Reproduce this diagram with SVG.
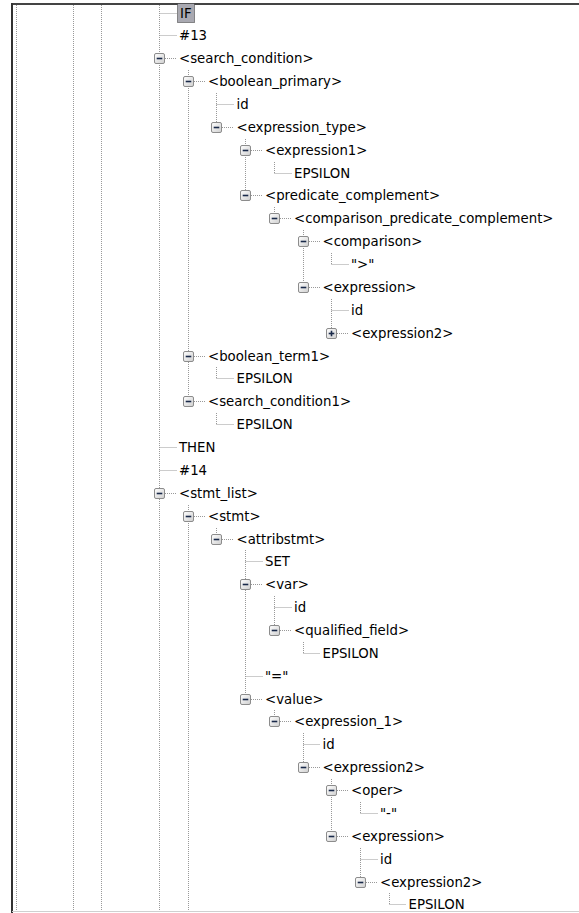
<svg xmlns="http://www.w3.org/2000/svg" xmlns:xlink="http://www.w3.org/1999/xlink" width="579" height="913" viewBox="0 0 579 913">
<style>
.t{font-family:"DejaVu Sans",Verdana,sans-serif;font-size:13.3px;fill:#000}
.d{stroke:#999;stroke-width:1;stroke-dasharray:1 1;fill:none}
.bx{fill:url(#bg);stroke:#8c8c8c;stroke-width:1}
.sg{stroke:#1a2a4a;stroke-width:1.6}
</style>
<defs>
<linearGradient id="bg" x1="0" y1="0" x2="1" y2="1">
<stop offset="0" stop-color="#ffffff"/>
<stop offset="1" stop-color="#cfcfcf"/>
</linearGradient>
<g id="mb"><rect class="bx" x="-5" y="-5" width="10" height="10" rx="1.5"/><line class="sg" x1="-2.8" y1="0" x2="2.8" y2="0"/></g>
<g id="pb"><rect class="bx" x="-5" y="-5" width="10" height="10" rx="1.5"/><line class="sg" x1="-2.8" y1="0" x2="2.8" y2="0"/><line class="sg" x1="0" y1="-2.8" x2="0" y2="2.8"/></g>
</defs>
<rect x="0" y="0" width="579" height="913" fill="#fff"/>
<g id="frame">
<line x1="11" y1="4" x2="579" y2="4" stroke="#444" stroke-width="2"/>
<line x1="12" y1="3" x2="12" y2="913" stroke="#333" stroke-width="2"/>
<line x1="12" y1="911.5" x2="579" y2="911.5" stroke="#d0d0d0" stroke-width="1"/>
</g>
<g id="connectors">
<line class="d" x1="16.5" y1="5" x2="16.5" y2="911"/>
<line class="d" x1="73.5" y1="5" x2="73.5" y2="911"/>
<line class="d" x1="101.5" y1="5" x2="101.5" y2="911"/>
<line class="d" x1="159.5" y1="5" x2="159.5" y2="911"/>
<line class="d" x1="188.5" y1="70" x2="188.5" y2="401.5"/>
<line class="d" x1="188.5" y1="505" x2="188.5" y2="911"/>
<line class="d" x1="216.5" y1="93" x2="216.5" y2="127.5"/>
<line class="d" x1="216.5" y1="367" x2="216.5" y2="378.5"/>
<line class="d" x1="216.5" y1="413" x2="216.5" y2="424.5"/>
<line class="d" x1="216.5" y1="528" x2="216.5" y2="539.5"/>
<line class="d" x1="245.5" y1="139" x2="245.5" y2="195.5"/>
<line class="d" x1="245.5" y1="550" x2="245.5" y2="699.5"/>
<line class="d" x1="274.5" y1="162" x2="274.5" y2="173.5"/>
<line class="d" x1="274.5" y1="207" x2="274.5" y2="218.5"/>
<line class="d" x1="274.5" y1="596" x2="274.5" y2="630.5"/>
<line class="d" x1="274.5" y1="710" x2="274.5" y2="721.5"/>
<line class="d" x1="303.5" y1="230" x2="303.5" y2="287.5"/>
<line class="d" x1="303.5" y1="642" x2="303.5" y2="653.5"/>
<line class="d" x1="303.5" y1="733" x2="303.5" y2="767.5"/>
<line class="d" x1="331.5" y1="253" x2="331.5" y2="264.5"/>
<line class="d" x1="331.5" y1="299" x2="331.5" y2="333.5"/>
<line class="d" x1="331.5" y1="779" x2="331.5" y2="836.5"/>
<line class="d" x1="360.5" y1="802" x2="360.5" y2="813.5"/>
<line class="d" x1="360.5" y1="848" x2="360.5" y2="882.5"/>
<line class="d" x1="389.5" y1="893" x2="389.5" y2="904.5"/>
<!-- horizontal connectors -->
<line class="d" x1="159.5" y1="13.5" x2="177" y2="13.5"/>
<line class="d" x1="159.5" y1="35.5" x2="177" y2="35.5"/>
<line class="d" x1="165" y1="58.5" x2="177" y2="58.5"/>
<line class="d" x1="194" y1="81.5" x2="206" y2="81.5"/>
<line class="d" x1="216.5" y1="104.5" x2="234" y2="104.5"/>
<line class="d" x1="222" y1="127.5" x2="234" y2="127.5"/>
<line class="d" x1="251" y1="150.5" x2="263" y2="150.5"/>
<line class="d" x1="274.5" y1="173.5" x2="292" y2="173.5"/>
<line class="d" x1="251" y1="195.5" x2="263" y2="195.5"/>
<line class="d" x1="280" y1="218.5" x2="292" y2="218.5"/>
<line class="d" x1="309" y1="241.5" x2="320" y2="241.5"/>
<line class="d" x1="331.5" y1="264.5" x2="349" y2="264.5"/>
<line class="d" x1="309" y1="287.5" x2="320" y2="287.5"/>
<line class="d" x1="331.5" y1="310.5" x2="349" y2="310.5"/>
<line class="d" x1="337" y1="333.5" x2="349" y2="333.5"/>
<line class="d" x1="194" y1="356.5" x2="206" y2="356.5"/>
<line class="d" x1="216.5" y1="378.5" x2="234" y2="378.5"/>
<line class="d" x1="194" y1="401.5" x2="206" y2="401.5"/>
<line class="d" x1="216.5" y1="424.5" x2="234" y2="424.5"/>
<line class="d" x1="159.5" y1="447.5" x2="177" y2="447.5"/>
<line class="d" x1="159.5" y1="470.5" x2="177" y2="470.5"/>
<line class="d" x1="165" y1="493.5" x2="177" y2="493.5"/>
<line class="d" x1="194" y1="516.5" x2="206" y2="516.5"/>
<line class="d" x1="222" y1="539.5" x2="234" y2="539.5"/>
<line class="d" x1="245.5" y1="561.5" x2="263" y2="561.5"/>
<line class="d" x1="251" y1="584.5" x2="263" y2="584.5"/>
<line class="d" x1="274.5" y1="607.5" x2="292" y2="607.5"/>
<line class="d" x1="280" y1="630.5" x2="292" y2="630.5"/>
<line class="d" x1="303.5" y1="653.5" x2="320" y2="653.5"/>
<line class="d" x1="245.5" y1="676.5" x2="263" y2="676.5"/>
<line class="d" x1="251" y1="699.5" x2="263" y2="699.5"/>
<line class="d" x1="280" y1="721.5" x2="292" y2="721.5"/>
<line class="d" x1="303.5" y1="744.5" x2="320" y2="744.5"/>
<line class="d" x1="309" y1="767.5" x2="320" y2="767.5"/>
<line class="d" x1="337" y1="790.5" x2="349" y2="790.5"/>
<line class="d" x1="360.5" y1="813.5" x2="378" y2="813.5"/>
<line class="d" x1="337" y1="836.5" x2="349" y2="836.5"/>
<line class="d" x1="360.5" y1="859.5" x2="378" y2="859.5"/>
<line class="d" x1="366" y1="882.5" x2="378" y2="882.5"/>
<line class="d" x1="389.5" y1="904.5" x2="406" y2="904.5"/>
</g>
<g id="n0"><rect x="177.5" y="3.5" width="17" height="19" fill="#a9a9b1" stroke="#333" stroke-dasharray="1 1"/><text class="t" x="180" y="18">IF</text></g>
<g id="n1"><text class="t" x="179" y="40">#13</text></g>
<g id="n2"><use xlink:href="#mb" transform="translate(159.5,58.5)"/><text class="t" x="179" y="63">&lt;search_condition&gt;</text></g>
<g id="n3"><use xlink:href="#mb" transform="translate(188.5,81.5)"/><text class="t" x="208" y="86">&lt;boolean_primary&gt;</text></g>
<g id="n4"><text class="t" x="236.5" y="109">id</text></g>
<g id="n5"><use xlink:href="#mb" transform="translate(216.5,127.5)"/><text class="t" x="236.5" y="132">&lt;expression_type&gt;</text></g>
<g id="n6"><use xlink:href="#mb" transform="translate(245.5,150.5)"/><text class="t" x="265" y="155">&lt;expression1&gt;</text></g>
<g id="n7"><text class="t" x="294" y="178">EPSILON</text></g>
<g id="n8"><use xlink:href="#mb" transform="translate(245.5,195.5)"/><text class="t" x="265" y="200">&lt;predicate_complement&gt;</text></g>
<g id="n9"><use xlink:href="#mb" transform="translate(274.5,218.5)"/><text class="t" x="294" y="223">&lt;comparison_predicate_complement&gt;</text></g>
<g id="n10"><use xlink:href="#mb" transform="translate(303.5,241.5)"/><text class="t" x="322.5" y="246">&lt;comparison&gt;</text></g>
<g id="n11"><text class="t" x="351" y="269">"&gt;"</text></g>
<g id="n12"><use xlink:href="#mb" transform="translate(303.5,287.5)"/><text class="t" x="322.5" y="292">&lt;expression&gt;</text></g>
<g id="n13"><text class="t" x="351" y="315">id</text></g>
<g id="n14"><use xlink:href="#pb" transform="translate(331.5,333.5)"/><text class="t" x="351" y="338">&lt;expression2&gt;</text></g>
<g id="n15"><use xlink:href="#mb" transform="translate(188.5,356.5)"/><text class="t" x="208" y="361">&lt;boolean_term1&gt;</text></g>
<g id="n16"><text class="t" x="236.5" y="383">EPSILON</text></g>
<g id="n17"><use xlink:href="#mb" transform="translate(188.5,401.5)"/><text class="t" x="208" y="406">&lt;search_condition1&gt;</text></g>
<g id="n18"><text class="t" x="236.5" y="429">EPSILON</text></g>
<g id="n19"><text class="t" x="179" y="452">THEN</text></g>
<g id="n20"><text class="t" x="179" y="475">#14</text></g>
<g id="n21"><use xlink:href="#mb" transform="translate(159.5,493.5)"/><text class="t" x="179" y="498">&lt;stmt_list&gt;</text></g>
<g id="n22"><use xlink:href="#mb" transform="translate(188.5,516.5)"/><text class="t" x="208" y="521">&lt;stmt&gt;</text></g>
<g id="n23"><use xlink:href="#mb" transform="translate(216.5,539.5)"/><text class="t" x="236.5" y="544">&lt;attribstmt&gt;</text></g>
<g id="n24"><text class="t" x="265" y="566">SET</text></g>
<g id="n25"><use xlink:href="#mb" transform="translate(245.5,584.5)"/><text class="t" x="265" y="589">&lt;var&gt;</text></g>
<g id="n26"><text class="t" x="294" y="612">id</text></g>
<g id="n27"><use xlink:href="#mb" transform="translate(274.5,630.5)"/><text class="t" x="294" y="635">&lt;qualified_field&gt;</text></g>
<g id="n28"><text class="t" x="322.5" y="658">EPSILON</text></g>
<g id="n29"><text class="t" x="265" y="681">"="</text></g>
<g id="n30"><use xlink:href="#mb" transform="translate(245.5,699.5)"/><text class="t" x="265" y="704">&lt;value&gt;</text></g>
<g id="n31"><use xlink:href="#mb" transform="translate(274.5,721.5)"/><text class="t" x="294" y="726">&lt;expression_1&gt;</text></g>
<g id="n32"><text class="t" x="322.5" y="749">id</text></g>
<g id="n33"><use xlink:href="#mb" transform="translate(303.5,767.5)"/><text class="t" x="322.5" y="772">&lt;expression2&gt;</text></g>
<g id="n34"><use xlink:href="#mb" transform="translate(331.5,790.5)"/><text class="t" x="351" y="795">&lt;oper&gt;</text></g>
<g id="n35"><text class="t" x="380" y="818">"-"</text></g>
<g id="n36"><use xlink:href="#mb" transform="translate(331.5,836.5)"/><text class="t" x="351" y="841">&lt;expression&gt;</text></g>
<g id="n37"><text class="t" x="380" y="864">id</text></g>
<g id="n38"><use xlink:href="#mb" transform="translate(360.5,882.5)"/><text class="t" x="380" y="887">&lt;expression2&gt;</text></g>
<g id="n39"><text class="t" x="408.5" y="909">EPSILON</text></g>
</svg>
